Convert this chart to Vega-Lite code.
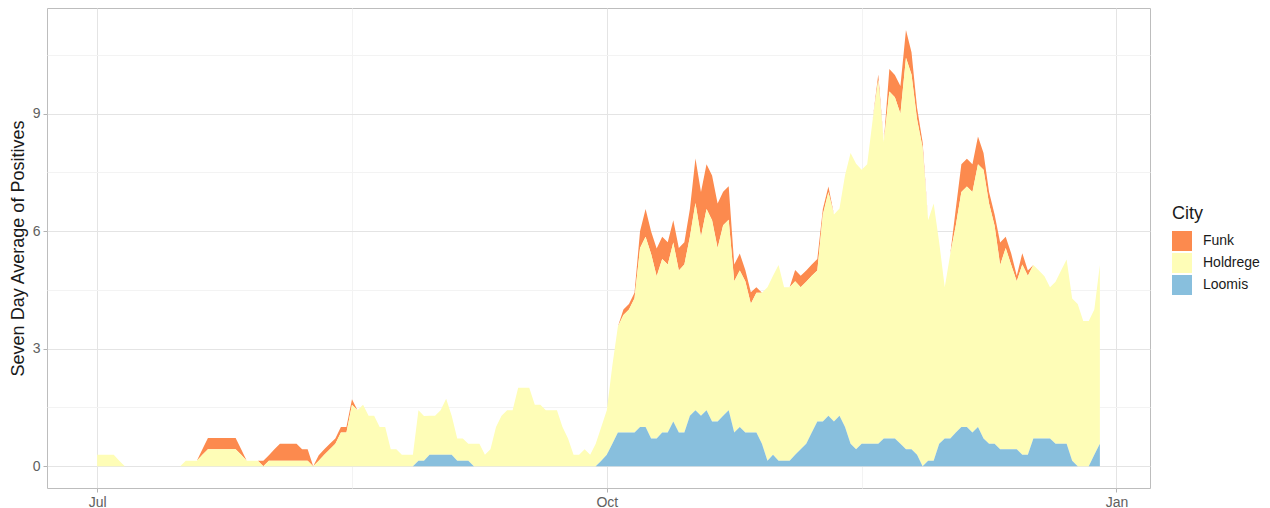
{
"$schema": "https://vega.github.io/schema/vega-lite/v6.json",
"width": 1103, "height": 480,
"autosize": {"type": "none"},
"padding": {"left": 47, "top": 8, "right": 120, "bottom": 20},
"background": "white",
"config": {"view": {"stroke": "#BDBDBD", "strokeWidth": 1}, "font": "Liberation Sans"},
"data": {"values": [
{"date":"2020/07/01","Funk":0,"Holdrege":0.29,"Loomis":0},
{"date":"2020/07/02","Funk":0,"Holdrege":0.29,"Loomis":0},
{"date":"2020/07/03","Funk":0,"Holdrege":0.29,"Loomis":0},
{"date":"2020/07/04","Funk":0,"Holdrege":0.29,"Loomis":0},
{"date":"2020/07/05","Funk":0,"Holdrege":0.14,"Loomis":0},
{"date":"2020/07/06","Funk":0,"Holdrege":0,"Loomis":0},
{"date":"2020/07/07","Funk":0,"Holdrege":0,"Loomis":0},
{"date":"2020/07/08","Funk":0,"Holdrege":0,"Loomis":0},
{"date":"2020/07/09","Funk":0,"Holdrege":0,"Loomis":0},
{"date":"2020/07/10","Funk":0,"Holdrege":0,"Loomis":0},
{"date":"2020/07/11","Funk":0,"Holdrege":0,"Loomis":0},
{"date":"2020/07/12","Funk":0,"Holdrege":0,"Loomis":0},
{"date":"2020/07/13","Funk":0,"Holdrege":0,"Loomis":0},
{"date":"2020/07/14","Funk":0,"Holdrege":0,"Loomis":0},
{"date":"2020/07/15","Funk":0,"Holdrege":0,"Loomis":0},
{"date":"2020/07/16","Funk":0,"Holdrege":0,"Loomis":0},
{"date":"2020/07/17","Funk":0,"Holdrege":0.14,"Loomis":0},
{"date":"2020/07/18","Funk":0,"Holdrege":0.14,"Loomis":0},
{"date":"2020/07/19","Funk":0,"Holdrege":0.14,"Loomis":0},
{"date":"2020/07/20","Funk":0.14,"Holdrege":0.29,"Loomis":0},
{"date":"2020/07/21","Funk":0.29,"Holdrege":0.43,"Loomis":0},
{"date":"2020/07/22","Funk":0.29,"Holdrege":0.43,"Loomis":0},
{"date":"2020/07/23","Funk":0.29,"Holdrege":0.43,"Loomis":0},
{"date":"2020/07/24","Funk":0.29,"Holdrege":0.43,"Loomis":0},
{"date":"2020/07/25","Funk":0.29,"Holdrege":0.43,"Loomis":0},
{"date":"2020/07/26","Funk":0.29,"Holdrege":0.43,"Loomis":0},
{"date":"2020/07/27","Funk":0.14,"Holdrege":0.29,"Loomis":0},
{"date":"2020/07/28","Funk":0,"Holdrege":0.14,"Loomis":0},
{"date":"2020/07/29","Funk":0,"Holdrege":0.14,"Loomis":0},
{"date":"2020/07/30","Funk":0,"Holdrege":0.14,"Loomis":0},
{"date":"2020/07/31","Funk":0.14,"Holdrege":0,"Loomis":0},
{"date":"2020/08/01","Funk":0.14,"Holdrege":0.14,"Loomis":0},
{"date":"2020/08/02","Funk":0.29,"Holdrege":0.14,"Loomis":0},
{"date":"2020/08/03","Funk":0.43,"Holdrege":0.14,"Loomis":0},
{"date":"2020/08/04","Funk":0.43,"Holdrege":0.14,"Loomis":0},
{"date":"2020/08/05","Funk":0.43,"Holdrege":0.14,"Loomis":0},
{"date":"2020/08/06","Funk":0.43,"Holdrege":0.14,"Loomis":0},
{"date":"2020/08/07","Funk":0.29,"Holdrege":0.14,"Loomis":0},
{"date":"2020/08/08","Funk":0.29,"Holdrege":0.14,"Loomis":0},
{"date":"2020/08/09","Funk":0,"Holdrege":0,"Loomis":0},
{"date":"2020/08/10","Funk":0.14,"Holdrege":0.14,"Loomis":0},
{"date":"2020/08/11","Funk":0.14,"Holdrege":0.29,"Loomis":0},
{"date":"2020/08/12","Funk":0.14,"Holdrege":0.43,"Loomis":0},
{"date":"2020/08/13","Funk":0.14,"Holdrege":0.57,"Loomis":0},
{"date":"2020/08/14","Funk":0.14,"Holdrege":0.86,"Loomis":0},
{"date":"2020/08/15","Funk":0.14,"Holdrege":0.86,"Loomis":0},
{"date":"2020/08/16","Funk":0.14,"Holdrege":1.57,"Loomis":0},
{"date":"2020/08/17","Funk":0,"Holdrege":1.43,"Loomis":0},
{"date":"2020/08/18","Funk":0,"Holdrege":1.57,"Loomis":0},
{"date":"2020/08/19","Funk":0,"Holdrege":1.29,"Loomis":0},
{"date":"2020/08/20","Funk":0,"Holdrege":1.29,"Loomis":0},
{"date":"2020/08/21","Funk":0,"Holdrege":1,"Loomis":0},
{"date":"2020/08/22","Funk":0,"Holdrege":1,"Loomis":0},
{"date":"2020/08/23","Funk":0,"Holdrege":0.43,"Loomis":0},
{"date":"2020/08/24","Funk":0,"Holdrege":0.43,"Loomis":0},
{"date":"2020/08/25","Funk":0,"Holdrege":0.29,"Loomis":0},
{"date":"2020/08/26","Funk":0,"Holdrege":0.29,"Loomis":0},
{"date":"2020/08/27","Funk":0,"Holdrege":0.29,"Loomis":0},
{"date":"2020/08/28","Funk":0,"Holdrege":1.29,"Loomis":0.14},
{"date":"2020/08/29","Funk":0,"Holdrege":1.14,"Loomis":0.14},
{"date":"2020/08/30","Funk":0,"Holdrege":1,"Loomis":0.29},
{"date":"2020/08/31","Funk":0,"Holdrege":1,"Loomis":0.29},
{"date":"2020/09/01","Funk":0,"Holdrege":1.14,"Loomis":0.29},
{"date":"2020/09/02","Funk":0,"Holdrege":1.43,"Loomis":0.29},
{"date":"2020/09/03","Funk":0,"Holdrege":1,"Loomis":0.29},
{"date":"2020/09/04","Funk":0,"Holdrege":0.57,"Loomis":0.14},
{"date":"2020/09/05","Funk":0,"Holdrege":0.57,"Loomis":0.14},
{"date":"2020/09/06","Funk":0,"Holdrege":0.43,"Loomis":0.14},
{"date":"2020/09/07","Funk":0,"Holdrege":0.57,"Loomis":0},
{"date":"2020/09/08","Funk":0,"Holdrege":0.57,"Loomis":0},
{"date":"2020/09/09","Funk":0,"Holdrege":0.29,"Loomis":0},
{"date":"2020/09/10","Funk":0,"Holdrege":0.43,"Loomis":0},
{"date":"2020/09/11","Funk":0,"Holdrege":1,"Loomis":0},
{"date":"2020/09/12","Funk":0,"Holdrege":1.29,"Loomis":0},
{"date":"2020/09/13","Funk":0,"Holdrege":1.43,"Loomis":0},
{"date":"2020/09/14","Funk":0,"Holdrege":1.43,"Loomis":0},
{"date":"2020/09/15","Funk":0,"Holdrege":2,"Loomis":0},
{"date":"2020/09/16","Funk":0,"Holdrege":2,"Loomis":0},
{"date":"2020/09/17","Funk":0,"Holdrege":2,"Loomis":0},
{"date":"2020/09/18","Funk":0,"Holdrege":1.57,"Loomis":0},
{"date":"2020/09/19","Funk":0,"Holdrege":1.57,"Loomis":0},
{"date":"2020/09/20","Funk":0,"Holdrege":1.43,"Loomis":0},
{"date":"2020/09/21","Funk":0,"Holdrege":1.43,"Loomis":0},
{"date":"2020/09/22","Funk":0,"Holdrege":1.43,"Loomis":0},
{"date":"2020/09/23","Funk":0,"Holdrege":1,"Loomis":0},
{"date":"2020/09/24","Funk":0,"Holdrege":0.71,"Loomis":0},
{"date":"2020/09/25","Funk":0,"Holdrege":0.29,"Loomis":0},
{"date":"2020/09/26","Funk":0,"Holdrege":0.29,"Loomis":0},
{"date":"2020/09/27","Funk":0,"Holdrege":0.43,"Loomis":0},
{"date":"2020/09/28","Funk":0,"Holdrege":0.29,"Loomis":0},
{"date":"2020/09/29","Funk":0,"Holdrege":0.57,"Loomis":0},
{"date":"2020/09/30","Funk":0,"Holdrege":0.86,"Loomis":0.14},
{"date":"2020/10/01","Funk":0,"Holdrege":1.14,"Loomis":0.29},
{"date":"2020/10/02","Funk":0,"Holdrege":2,"Loomis":0.57},
{"date":"2020/10/03","Funk":0,"Holdrege":2.71,"Loomis":0.86},
{"date":"2020/10/04","Funk":0.14,"Holdrege":3,"Loomis":0.86},
{"date":"2020/10/05","Funk":0.14,"Holdrege":3.14,"Loomis":0.86},
{"date":"2020/10/06","Funk":0.14,"Holdrege":3.43,"Loomis":0.86},
{"date":"2020/10/07","Funk":0.43,"Holdrege":4.57,"Loomis":1},
{"date":"2020/10/08","Funk":0.71,"Holdrege":4.86,"Loomis":1},
{"date":"2020/10/09","Funk":0.57,"Holdrege":4.71,"Loomis":0.71},
{"date":"2020/10/10","Funk":0.71,"Holdrege":4.14,"Loomis":0.71},
{"date":"2020/10/11","Funk":0.57,"Holdrege":4.43,"Loomis":0.86},
{"date":"2020/10/12","Funk":0.57,"Holdrege":4.29,"Loomis":0.86},
{"date":"2020/10/13","Funk":0.57,"Holdrege":4.57,"Loomis":1.14},
{"date":"2020/10/14","Funk":0.57,"Holdrege":4.14,"Loomis":0.86},
{"date":"2020/10/15","Funk":0.57,"Holdrege":4.29,"Loomis":0.86},
{"date":"2020/10/16","Funk":0.71,"Holdrege":4.57,"Loomis":1.29},
{"date":"2020/10/17","Funk":1.14,"Holdrege":5.29,"Loomis":1.43},
{"date":"2020/10/18","Funk":1.14,"Holdrege":4.57,"Loomis":1.29},
{"date":"2020/10/19","Funk":1.14,"Holdrege":5.14,"Loomis":1.43},
{"date":"2020/10/20","Funk":1.14,"Holdrege":5.14,"Loomis":1.14},
{"date":"2020/10/21","Funk":1.14,"Holdrege":4.43,"Loomis":1.14},
{"date":"2020/10/22","Funk":0.86,"Holdrege":4.86,"Loomis":1.29},
{"date":"2020/10/23","Funk":0.86,"Holdrege":4.86,"Loomis":1.43},
{"date":"2020/10/24","Funk":0.43,"Holdrege":3.86,"Loomis":0.86},
{"date":"2020/10/25","Funk":0.43,"Holdrege":4,"Loomis":1},
{"date":"2020/10/26","Funk":0.29,"Holdrege":3.86,"Loomis":0.86},
{"date":"2020/10/27","Funk":0.29,"Holdrege":3.29,"Loomis":0.86},
{"date":"2020/10/28","Funk":0.14,"Holdrege":3.57,"Loomis":0.86},
{"date":"2020/10/29","Funk":0,"Holdrege":3.86,"Loomis":0.57},
{"date":"2020/10/30","Funk":0,"Holdrege":4.43,"Loomis":0.14},
{"date":"2020/10/31","Funk":0,"Holdrege":4.57,"Loomis":0.29},
{"date":"2020/11/01","Funk":0,"Holdrege":5,"Loomis":0.14},
{"date":"2020/11/02","Funk":0,"Holdrege":4.43,"Loomis":0.14},
{"date":"2020/11/03","Funk":0,"Holdrege":4.43,"Loomis":0.14},
{"date":"2020/11/04","Funk":0.29,"Holdrege":4.43,"Loomis":0.29},
{"date":"2020/11/05","Funk":0.29,"Holdrege":4.14,"Loomis":0.43},
{"date":"2020/11/06","Funk":0.29,"Holdrege":4.14,"Loomis":0.57},
{"date":"2020/11/07","Funk":0.29,"Holdrege":4,"Loomis":0.86},
{"date":"2020/11/08","Funk":0.29,"Holdrege":3.86,"Loomis":1.14},
{"date":"2020/11/09","Funk":0.14,"Holdrege":5.29,"Loomis":1.14},
{"date":"2020/11/10","Funk":0.14,"Holdrege":5.71,"Loomis":1.29},
{"date":"2020/11/11","Funk":0,"Holdrege":5.29,"Loomis":1.14},
{"date":"2020/11/12","Funk":0,"Holdrege":5.29,"Loomis":1.29},
{"date":"2020/11/13","Funk":0,"Holdrege":6.43,"Loomis":1},
{"date":"2020/11/14","Funk":0,"Holdrege":7.43,"Loomis":0.57},
{"date":"2020/11/15","Funk":0,"Holdrege":7.29,"Loomis":0.43},
{"date":"2020/11/16","Funk":0,"Holdrege":7,"Loomis":0.57},
{"date":"2020/11/17","Funk":0,"Holdrege":7.14,"Loomis":0.57},
{"date":"2020/11/18","Funk":0,"Holdrege":8.29,"Loomis":0.57},
{"date":"2020/11/19","Funk":0.14,"Holdrege":9.29,"Loomis":0.57},
{"date":"2020/11/20","Funk":0,"Holdrege":7.57,"Loomis":0.71},
{"date":"2020/11/21","Funk":0.57,"Holdrege":8.86,"Loomis":0.71},
{"date":"2020/11/22","Funk":0.57,"Holdrege":8.71,"Loomis":0.71},
{"date":"2020/11/23","Funk":0.71,"Holdrege":8.43,"Loomis":0.57},
{"date":"2020/11/24","Funk":0.71,"Holdrege":10,"Loomis":0.43},
{"date":"2020/11/25","Funk":0.57,"Holdrege":9.57,"Loomis":0.43},
{"date":"2020/11/26","Funk":0.29,"Holdrege":8.57,"Loomis":0.29},
{"date":"2020/11/27","Funk":0.14,"Holdrege":8.14,"Loomis":0},
{"date":"2020/11/28","Funk":0,"Holdrege":6.14,"Loomis":0.14},
{"date":"2020/11/29","Funk":0,"Holdrege":6.57,"Loomis":0.14},
{"date":"2020/11/30","Funk":0,"Holdrege":5.14,"Loomis":0.57},
{"date":"2020/12/01","Funk":0,"Holdrege":3.86,"Loomis":0.71},
{"date":"2020/12/02","Funk":0,"Holdrege":4.71,"Loomis":0.71},
{"date":"2020/12/03","Funk":0.43,"Holdrege":5.29,"Loomis":0.86},
{"date":"2020/12/04","Funk":0.71,"Holdrege":6,"Loomis":1},
{"date":"2020/12/05","Funk":0.71,"Holdrege":6.14,"Loomis":1},
{"date":"2020/12/06","Funk":0.71,"Holdrege":6.14,"Loomis":0.86},
{"date":"2020/12/07","Funk":0.71,"Holdrege":6.71,"Loomis":1},
{"date":"2020/12/08","Funk":0.43,"Holdrege":6.86,"Loomis":0.71},
{"date":"2020/12/09","Funk":0.29,"Holdrege":6.14,"Loomis":0.57},
{"date":"2020/12/10","Funk":0.29,"Holdrege":5.57,"Loomis":0.57},
{"date":"2020/12/11","Funk":0.57,"Holdrege":4.71,"Loomis":0.43},
{"date":"2020/12/12","Funk":0.29,"Holdrege":5.14,"Loomis":0.43},
{"date":"2020/12/13","Funk":0.29,"Holdrege":4.71,"Loomis":0.43},
{"date":"2020/12/14","Funk":0.14,"Holdrege":4.29,"Loomis":0.43},
{"date":"2020/12/15","Funk":0.29,"Holdrege":4.86,"Loomis":0.29},
{"date":"2020/12/16","Funk":0.14,"Holdrege":4.57,"Loomis":0.29},
{"date":"2020/12/17","Funk":0,"Holdrege":4.43,"Loomis":0.71},
{"date":"2020/12/18","Funk":0,"Holdrege":4.29,"Loomis":0.71},
{"date":"2020/12/19","Funk":0,"Holdrege":4.14,"Loomis":0.71},
{"date":"2020/12/20","Funk":0,"Holdrege":3.86,"Loomis":0.71},
{"date":"2020/12/21","Funk":0,"Holdrege":4.14,"Loomis":0.57},
{"date":"2020/12/22","Funk":0,"Holdrege":4.43,"Loomis":0.57},
{"date":"2020/12/23","Funk":0,"Holdrege":4.71,"Loomis":0.57},
{"date":"2020/12/24","Funk":0,"Holdrege":4.14,"Loomis":0.14},
{"date":"2020/12/25","Funk":0,"Holdrege":4.14,"Loomis":0},
{"date":"2020/12/26","Funk":0,"Holdrege":3.71,"Loomis":0},
{"date":"2020/12/27","Funk":0,"Holdrege":3.71,"Loomis":0},
{"date":"2020/12/28","Funk":0,"Holdrege":3.71,"Loomis":0.29},
{"date":"2020/12/29","Funk":0,"Holdrege":4.57,"Loomis":0.57}
]},
"transform": [{"fold": ["Funk", "Holdrege", "Loomis"], "as": ["City", "value"]}],
"mark": {"type": "area", "interpolate": "linear"},
"encoding": {
  "x": {"field": "date", "type": "temporal", "title": null,
    "scale": {"domain": [{"year": 2020, "month": 6, "date": 21, "hours": 22, "minutes": 48}, {"year": 2021, "month": 1, "date": 7, "hours": 1, "minutes": 12}]},
    "axis": {"values": [{"year": 2020, "month": 7, "date": 1}, {"year": 2020, "month": 8, "date": 16}, {"year": 2020, "month": 10, "date": 1}, {"year": 2020, "month": 11, "date": 16}, {"year": 2021, "month": 1, "date": 1}],
      "labelExpr": "(month(datum.value)==7 || month(datum.value)==10) ? '' : timeFormat(datum.value, '%b')",
      "gridColor": {"condition": {"test": "month(datum.value)==7 || month(datum.value)==10", "value": "#F3F3F3"}, "value": "#E4E4E4"},
      "tickColor": {"condition": {"test": "month(datum.value)==7 || month(datum.value)==10", "value": "transparent"}, "value": "#B3B3B3"},
      "domain": false, "tickSize": 4, "labelPadding": 3, "labelFontSize": 14, "labelColor": "#606060", "labelFont": "Liberation Sans", "labelFlush": false, "labelOverlap": false}},
  "y": {"field": "value", "type": "quantitative", "stack": "zero", "title": "Seven Day Average of Positives",
    "scale": {"domain": [-0.557, 11.7], "nice": false, "zero": false},
    "axis": {"values": [0, 1.5, 3, 4.5, 6, 7.5, 9, 10.5], "format": ".0f",
      "labelExpr": "datum.value % 3 == 0 ? datum.label : ''",
      "gridColor": {"condition": {"test": "datum.value % 3 != 0", "value": "#F3F3F3"}, "value": "#E4E4E4"},
      "tickColor": {"condition": {"test": "datum.value % 3 != 0", "value": "transparent"}, "value": "#B3B3B3"},
      "domain": false, "tickSize": 4, "labelPadding": 3, "labelFontSize": 14, "labelColor": "#606060", "labelFont": "Liberation Sans",
      "titleFont": "Liberation Sans", "titleFontSize": 18, "titleFontWeight": "normal", "titleColor": "#1A1A1A", "titlePadding": 5}},
  "color": {"field": "City", "type": "nominal",
    "scale": {"domain": ["Funk", "Holdrege", "Loomis"], "range": ["#FC8A4E", "#FEFDB7", "#88BFDD"]},
    "legend": {"orient": "none", "legendX": 1125, "legendY": 197, "title": "City", "titleFont": "Liberation Sans", "titleFontSize": 18, "titleFontWeight": "normal", "titleColor": "#1A1A1A", "titlePadding": 8,
      "labelFont": "Liberation Sans", "labelFontSize": 14, "labelColor": "#1A1A1A", "symbolType": "square", "symbolSize": 400, "symbolStrokeWidth": 0, "symbolOpacity": 1, "rowPadding": 2, "labelOffset": 11}},
  "order": {"field": "City", "sort": "descending"}
}
}
